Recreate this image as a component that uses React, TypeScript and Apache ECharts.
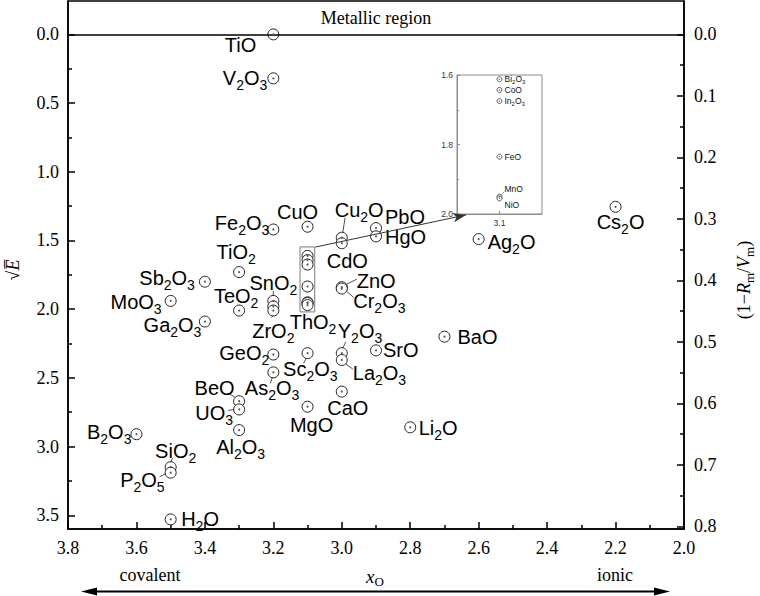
import React, { useEffect, useRef } from 'react';
import * as echarts from 'echarts';

// ---------- data ----------
const compounds = ['TiO', 'V2O3', 'Fe2O3', 'CuO', 'Cu2O', 'CdO', 'PbO', 'HgO', 'Ag2O', 'Cs2O', 'TiO2', 'Sb2O3', 'MoO3', 'Ga2O3', 'TeO2', 'SnO2', '', 'ZrO2', 'ThO2', 'ZnO', 'Cr2O3', 'Y2O3', 'La2O3', 'SrO', 'BaO', 'Li2O', 'GeO2', 'Sc2O3', 'As2O3', 'BeO', 'UO3', 'Al2O3', 'MgO', 'CaO', 'B2O3', 'SiO2', 'P2O5', 'H2O'];
const xO = [3.2, 3.2, 3.2, 3.1, 3.0, 3.0, 2.9, 2.9, 2.6, 2.2, 3.3, 3.4, 3.5, 3.4, 3.3, 3.2, 3.2, 3.2, 3.1, 3.0, 3.0, 3.0, 3.0, 2.9, 2.7, 2.8, 3.2, 3.1, 3.2, 3.3, 3.3, 3.3, 3.1, 3.0, 3.6, 3.5, 3.5, 3.5];
const sqrtE = [0.0, 0.32, 1.42, 1.40, 1.48, 1.52, 1.41, 1.47, 1.49, 1.255, 1.73, 1.80, 1.94, 2.09, 2.01, 1.94, 1.98, 2.01, 1.97, 1.84, 1.85, 2.32, 2.37, 2.30, 2.20, 2.86, 2.33, 2.32, 2.46, 2.67, 2.73, 2.88, 2.71, 2.60, 2.91, 3.15, 3.19, 3.53];

const boxedCompounds = ['Bi2O3', 'CoO', 'In2O3', 'FeO', 'MnO', 'NiO'];
const boxedXO = [3.1, 3.1, 3.1, 3.1, 3.1, 3.1];
const boxedSqrtE = [1.612, 1.643, 1.675, 1.835, 1.95, 1.955];

const leftTicks = [0, 0.5, 1.0, 1.5, 2.0, 2.5, 3.0, 3.5];
const leftMinorTicks = [0.25, 0.75, 1.25, 1.75, 2.25, 2.75, 3.25];
const rightTicks = [0, 0.1, 0.2, 0.3, 0.4, 0.5, 0.6, 0.7, 0.8];
const rightMinorTicks = [0.05, 0.15, 0.25, 0.35, 0.45, 0.55, 0.65, 0.75];
const insetXTicks = [3.1];

// ---------- styling (label placement relative to the circle centre, px) ----------
const labelPlace: Record<string, [string, number, number]> = {
  TiO: ['right', -17, 11], V2O3: ['right', -6, 0], Fe2O3: ['right', -4, -6.5], CuO: ['center', -10, -15],
  Cu2O: ['left', -7, -28], CdO: ['left', -15, 18], PbO: ['left', 9, -11], HgO: ['left', 9, 1],
  Ag2O: ['left', 9, 3], Cs2O: ['center', 5, 15], TiO2: ['center', -3, -20], Sb2O3: ['right', -10, -4],
  MoO3: ['right', -9, 1], Ga2O3: ['right', -3.5, 3], TeO2: ['center', -3, -15], SnO2: ['center', 0, -18],
  ZrO2: ['center', 0, 20], ThO2: ['center', 5.5, 16.5], ZnO: ['left', 15, -6], Cr2O3: ['left', 11.5, 12],
  Y2O3: ['left', -4, -22.5], La2O3: ['left', 11, 12.5], SrO: ['left', 7, 0], BaO: ['left', 13, 0],
  Li2O: ['left', 8.5, 1], GeO2: ['right', -4, -1.5], Sc2O3: ['left', -24.5, 16], As2O3: ['left', -28.5, 16],
  BeO: ['right', -4.5, -13.5], UO3: ['right', -6, 3.5], Al2O3: ['center', 1.5, 16.5], MgO: ['center', 4, 18],
  CaO: ['center', 6, 16], B2O3: ['right', -5, -2], SiO2: ['center', 5, -16], P2O5: ['right', -6, 7.5],
  H2O: ['left', 10.5, 0],
};
const leaderPlace: Record<string, [number, number, number, number]> = {
  Cu2O: [1, -5, 3.3, -20], SnO2: [0, -5, 0, -10], ZrO2: [0, 5, -2, 7], ZnO: [5, -3, 15, -8],
  Cr2O3: [5, 3, 12, 9], Y2O3: [1, -5, 4, -11], La2O3: [4, 4, 11, 9], Sc2O3: [-1, 5, -4, 10],
  As2O3: [-1, 5, -3, 11], BeO: [-4, -4, -9, -7], UO3: [-5, 0, -11, 1], SiO2: [0, -5, 2, -9],
  P2O5: [-5, 1, -11, 4],
};
const insetLabelPlace: Record<string, [number, number]> = {
  Bi2O3: [5, 0], CoO: [5, 0], In2O3: [5, 0], FeO: [5, 0], MnO: [5, -7.5], NiO: [5, 6.5],
};
const insetLeaderPlace: Record<string, [number, number, number, number]> = { MnO: [2, -2, 5, -5] };

const SERIF = '"Liberation Serif", "Times New Roman", serif';
const SANS = '"Liberation Sans", Arial, sans-serif';
const K = 0.2234; // right-axis scale factor
const Y_MIN = -0.243;
const Y_MAX = 3.6;

const richify = (s: string) =>
  s.replace(/([A-Za-z]+)|(\d+)/g, (_m: string, a: string, d: string) => (a ? `{m|${a}}` : `{s|${d}}`));

export default function App() {
  const ref = useRef<HTMLDivElement>(null);
  useEffect(() => {
    if (!ref.current) return;
    const chart = echarts.init(ref.current, null, { renderer: 'svg' });

    const mainData = compounds.map((n, i) => {
      const lp = labelPlace[n];
      return {
        name: n,
        value: [xO[i], sqrtE[i]],
        label: lp ? { show: true, align: lp[0], offset: [lp[1], lp[2]] } : { show: false },
      };
    });
    const leaderIdx = compounds.map((n, i) => i).filter((i) => leaderPlace[compounds[i]]);
    const insetData = boxedCompounds.map((n, i) => {
      const lp = insetLabelPlace[n];
      return { name: n, value: [boxedXO[i], boxedSqrtE[i]], label: { show: true, align: 'left', offset: lp } };
    });
    const insetLeaderIdx = boxedCompounds.map((n, i) => i).filter((i) => insetLeaderPlace[boxedCompounds[i]]);

    const axisBlack = { color: '#000', width: 1.5 };
    const circleStyle = { color: '#fff', borderColor: '#222', borderWidth: 1, opacity: 1 };

    const option: any = {
      animation: false,
      backgroundColor: '#fff',
      grid: [
        { left: 68, right: 76, top: 1, bottom: 67, show: true, borderColor: '#000', borderWidth: 1.5 },
        { left: 457, top: 75, width: 85, height: 139, show: true, borderColor: '#8c8c8c', borderWidth: 1 },
      ],
      xAxis: [
        {
          gridIndex: 0, type: 'value', min: 2.0, max: 3.8, interval: 0.2, inverse: true,
          axisLine: { onZero: false, lineStyle: axisBlack },
          axisTick: { inside: true, length: 7, lineStyle: axisBlack },
          minorTick: { show: true, splitNumber: 2, length: 4, lineStyle: axisBlack },
          axisLabel: { fontFamily: SERIF, fontSize: 18, color: '#000', margin: 10, formatter: (v: number) => v.toFixed(1) },
          splitLine: { show: false }, minorSplitLine: { show: false },
        },
        {
          gridIndex: 1, type: 'value', min: 3.0, max: 3.2,
          axisLine: { onZero: false, lineStyle: { color: '#8c8c8c', width: 1 } },
          axisTick: { inside: true, length: 3, customValues: insetXTicks, lineStyle: { color: '#8c8c8c' } },
          axisLabel: { customValues: insetXTicks, fontFamily: SANS, fontSize: 8.5, color: '#333', margin: 4, formatter: (v: number) => v.toFixed(1) },
          splitLine: { show: false },
        },
      ],
      yAxis: [
        {
          gridIndex: 0, type: 'value', min: Y_MIN, max: Y_MAX, inverse: true, position: 'left',
          axisLine: { show: true, onZero: false, lineStyle: axisBlack },
          axisTick: { show: true, inside: true, length: 7, customValues: leftTicks, lineStyle: axisBlack },
          axisLabel: { customValues: leftTicks, fontFamily: SERIF, fontSize: 18, color: '#000', margin: 9, formatter: (v: number) => v.toFixed(1) },
          splitLine: { show: false },
        },
        {
          gridIndex: 0, type: 'value', min: Y_MIN * K, max: Y_MAX * K, inverse: true, position: 'right',
          axisLine: { show: true, onZero: false, lineStyle: axisBlack },
          axisTick: { show: true, inside: true, length: 7, customValues: rightTicks, lineStyle: axisBlack },
          axisLabel: { customValues: rightTicks, fontFamily: SERIF, fontSize: 18, color: '#000', margin: 10, formatter: (v: number) => v.toFixed(1) },
          splitLine: { show: false },
        },
        {
          gridIndex: 0, type: 'value', min: Y_MIN, max: Y_MAX, inverse: true, position: 'left',
          axisLine: { show: false, onZero: false },
          axisTick: { show: true, inside: true, length: 4, customValues: leftMinorTicks, lineStyle: axisBlack },
          axisLabel: { show: false }, splitLine: { show: false },
        },
        {
          gridIndex: 0, type: 'value', min: Y_MIN * K, max: Y_MAX * K, inverse: true, position: 'right',
          axisLine: { show: false, onZero: false },
          axisTick: { show: true, inside: true, length: 4, customValues: rightMinorTicks, lineStyle: axisBlack },
          axisLabel: { show: false }, splitLine: { show: false },
        },
        {
          gridIndex: 1, type: 'value', min: 1.6, max: 2.0, interval: 0.2, inverse: true,
          axisLine: { show: true, onZero: false, lineStyle: { color: '#8c8c8c', width: 1 } },
          axisTick: { show: true, inside: true, length: 3, lineStyle: { color: '#8c8c8c' } },
          minorTick: { show: true, splitNumber: 2, length: 2, lineStyle: { color: '#8c8c8c' } },
          axisLabel: { fontFamily: SANS, fontSize: 8.5, color: '#333', margin: 4, formatter: (v: number) => v.toFixed(1) },
          splitLine: { show: false }, minorSplitLine: { show: false },
        },
      ],
      series: [
        {
          type: 'scatter', xAxisIndex: 0, yAxisIndex: 0, symbol: 'circle', symbolSize: 11, z: 3,
          itemStyle: circleStyle,
          data: boxedCompounds.map((n, i) => ({ name: n, value: [boxedXO[i], boxedSqrtE[i]] })),
          label: { show: false },
          markArea: {
            silent: true,
            itemStyle: { color: 'rgba(0,0,0,0)', borderColor: '#7a7a7a', borderWidth: 1 },
            data: [[{ coord: [3.122, 1.547] }, { coord: [3.079, 2.02] }]],
          },
          markLine: {
            silent: true, symbol: ['none', 'arrow'], symbolSize: [7, 13],
            lineStyle: { color: '#333', width: 1, type: 'solid' }, label: { show: false },
            data: [[{ coord: [3.077, 1.548] }, { coord: [2.637, 1.314] }]],
          },
        },
        {
          type: 'scatter', xAxisIndex: 0, yAxisIndex: 0, symbol: 'circle', symbolSize: 11, z: 4,
          itemStyle: circleStyle,
          data: mainData,
          label: {
            show: true, position: 'inside', verticalAlign: 'middle', color: '#000',
            formatter: (p: any) => richify(p.name),
            rich: {
              m: { fontFamily: SANS, fontSize: 20, lineHeight: 28, color: '#000' },
              s: { fontFamily: SANS, fontSize: 14, lineHeight: 14, verticalAlign: 'bottom', color: '#000' },
            },
          },
          markLine: {
            silent: true, symbol: 'none', label: { show: false },
            lineStyle: { color: '#000', width: 1.5, type: 'solid' },
            data: [{ yAxis: 0 }],
          },
        },
        {
          type: 'scatter', xAxisIndex: 0, yAxisIndex: 0, symbol: 'circle', symbolSize: 2, z: 5, silent: true,
          itemStyle: { color: '#555', opacity: 1 },
          data: xO.map((x, i) => [x, sqrtE[i]]).concat(boxedXO.map((x, i) => [x, boxedSqrtE[i]])),
        },
        {
          type: 'custom', xAxisIndex: 0, yAxisIndex: 0, silent: true, z: 6,
          data: leaderIdx.map((i) => [xO[i], sqrtE[i]]),
          renderItem: (params: any, api: any) => {
            const p = api.coord([api.value(0), api.value(1)]);
            const o = leaderPlace[compounds[leaderIdx[params.dataIndex]]];
            return {
              type: 'line',
              shape: { x1: p[0] + o[0], y1: p[1] + o[1], x2: p[0] + o[2], y2: p[1] + o[3] },
              style: { stroke: '#222', lineWidth: 0.8 },
            };
          },
        },
        {
          type: 'scatter', xAxisIndex: 1, yAxisIndex: 4, symbol: 'circle', symbolSize: 5, z: 4,
          itemStyle: { color: '#fff', borderColor: '#333', borderWidth: 0.8, opacity: 1 },
          data: insetData,
          label: {
            show: true, position: 'inside', verticalAlign: 'middle', color: '#000',
            formatter: (p: any) => richify(p.name),
            rich: {
              m: { fontFamily: SANS, fontSize: 8.5, lineHeight: 12, color: '#111' },
              s: { fontFamily: SANS, fontSize: 6, lineHeight: 6, verticalAlign: 'bottom', color: '#111' },
            },
          },
        },
        {
          type: 'scatter', xAxisIndex: 1, yAxisIndex: 4, symbol: 'circle', symbolSize: 1.2, z: 5, silent: true,
          itemStyle: { color: '#555', opacity: 1 },
          data: boxedXO.map((x, i) => [x, boxedSqrtE[i]]),
        },
        {
          type: 'custom', xAxisIndex: 1, yAxisIndex: 4, silent: true, z: 6,
          data: insetLeaderIdx.map((i) => [boxedXO[i], boxedSqrtE[i]]),
          renderItem: (params: any, api: any) => {
            const p = api.coord([api.value(0), api.value(1)]);
            const o = insetLeaderPlace[boxedCompounds[insetLeaderIdx[params.dataIndex]]];
            return {
              type: 'line',
              shape: { x1: p[0] + o[0], y1: p[1] + o[1], x2: p[0] + o[2], y2: p[1] + o[3] },
              style: { stroke: '#444', lineWidth: 0.6 },
            };
          },
        },
      ],
      graphic: [
        {
          type: 'text', x: 376, y: 18, silent: true,
          style: { text: 'Metallic region', fontFamily: SERIF, fontSize: 18, fill: '#000', align: 'center', verticalAlign: 'middle' },
        },
        {
          type: 'text', x: 13, y: 270, rotation: Math.PI / 2, silent: true,
          style: {
            text: '{r|√}{e|E\u0305}', align: 'center', verticalAlign: 'middle',
            rich: {
              r: { fontFamily: SERIF, fontSize: 18, fill: '#000', lineHeight: 22 },
              e: { fontFamily: SERIF, fontSize: 18, fontStyle: 'italic', fill: '#000', lineHeight: 22 },
            },
          },
        },
        {
          type: 'text', x: 744, y: 280, rotation: Math.PI / 2, silent: true,
          style: {
            text: '{n|(1−}{i|R}{s|m}{n|/}{i|V}{s|m}{n|)}', align: 'center', verticalAlign: 'middle',
            rich: {
              n: { fontFamily: SERIF, fontSize: 18, fill: '#000', lineHeight: 24 },
              i: { fontFamily: SERIF, fontSize: 18, fontStyle: 'italic', fill: '#000', lineHeight: 24 },
              s: { fontFamily: SERIF, fontSize: 13, fill: '#000', lineHeight: 13, verticalAlign: 'bottom' },
            },
          },
        },
        {
          type: 'text', x: 366, y: 576, silent: true,
          style: {
            text: '{i|x}{s|O}', align: 'left', verticalAlign: 'middle',
            rich: {
              i: { fontFamily: SERIF, fontSize: 19, fontStyle: 'italic', fill: '#000', lineHeight: 24 },
              s: { fontFamily: SERIF, fontSize: 13, fill: '#000', lineHeight: 13, verticalAlign: 'bottom' },
            },
          },
        },
        {
          type: 'text', x: 150, y: 575, silent: true,
          style: { text: 'covalent', fontFamily: SERIF, fontSize: 18, fill: '#000', align: 'center', verticalAlign: 'middle' },
        },
        {
          type: 'text', x: 615, y: 575, silent: true,
          style: { text: 'ionic', fontFamily: SERIF, fontSize: 18, fill: '#000', align: 'center', verticalAlign: 'middle' },
        },
        {
          type: 'line', silent: true,
          shape: { x1: 92, y1: 591.5, x2: 659, y2: 591.5 },
          style: { stroke: '#000', lineWidth: 2 },
        },
        {
          type: 'polygon', silent: true,
          shape: { points: [[81, 591.5], [97, 587.5], [97, 595.5]] },
          style: { fill: '#000' },
        },
        {
          type: 'polygon', silent: true,
          shape: { points: [[670, 591.5], [654, 587.5], [654, 595.5]] },
          style: { fill: '#000' },
        },
      ],
    };
    chart.setOption(option);
    return () => chart.dispose();
  }, []);

  return (
    <div
      ref={ref}
      style={{ position: 'fixed', left: 0, top: 0, width: 760, height: 596, background: '#fff' }}
    />
  );
}
